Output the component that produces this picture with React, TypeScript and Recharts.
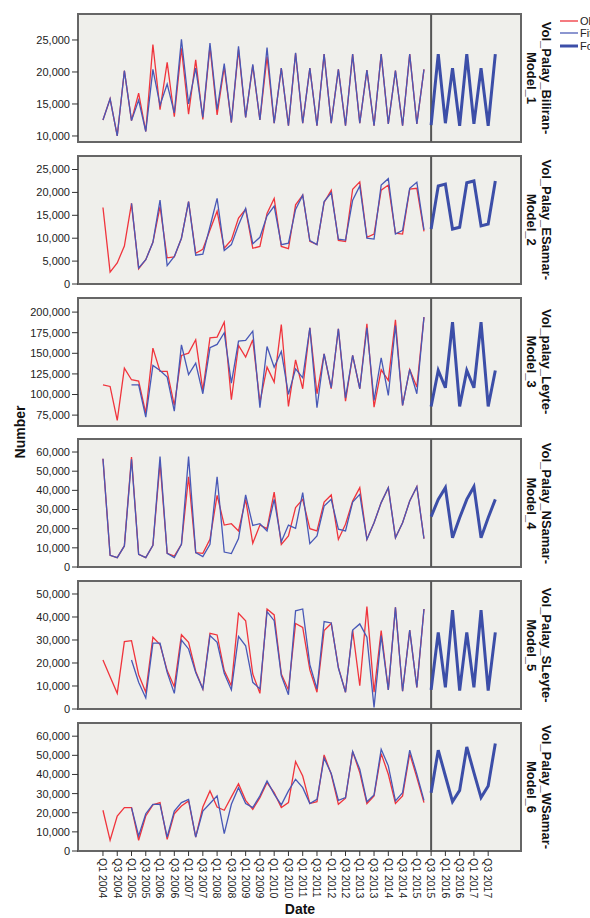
import React from 'react';
import { LineChart, Line, XAxis, YAxis, ReferenceLine } from 'recharts';

const FONT = '"Liberation Sans", Arial, sans-serif';

// every other quarter gets a label on the bottom axis
const tickLabels = [
  'Q1 2004', 'Q3 2004', 'Q1 2005', 'Q3 2005', 'Q1 2006', 'Q3 2006', 'Q1 2007',
  'Q3 2007', 'Q1 2008', 'Q3 2008', 'Q1 2009', 'Q3 2009', 'Q1 2010', 'Q3 2010',
  'Q1 2011', 'Q3 2011', 'Q1 2012', 'Q3 2012', 'Q1 2013', 'Q3 2013', 'Q1 2014',
  'Q3 2014', 'Q1 2015', 'Q3 2015', 'Q1 2016', 'Q3 2016', 'Q1 2017', 'Q3 2017',
];
const forecastStart = 46; // Q3 2015
const nQuarters = 56;

// Biliran
const bilObs = [12500, 15800, 10000, 20200, 12400, 16700, 10700, 24300, 14100, 21500, 13000, 23700, 13400, 21900, 12600, 24000, 13300, 20800, 12100, 23500, 12900, 21000, 12500, 22400, 12000, 20600, 11600, 22900, 12000, 20600, 11600, 22800, 12000, 20400, 11600, 22800, 12000, 20300, 11600, 22800, 11900, 20200, 11600, 22800, 11900, 20400];
const bilFit = [12500, 15800, 10000, 20200, 12400, 15600, 10700, 20400, 14800, 18100, 13600, 25100, 15000, 20600, 12900, 24500, 14100, 21300, 12100, 24000, 12900, 21200, 12500, 23800, 12000, 20600, 11600, 23000, 12000, 20600, 11600, 22800, 12000, 20400, 11600, 22800, 12000, 20300, 11600, 22800, 11900, 20200, 11600, 22800, 11900, 20400];
const bilFc = [11700, 22800, 12000, 20600, 11600, 22800, 11900, 20600, 11600, 22800];

// Eastern Samar
const esaObs = [16700, 2600, 4600, 8300, 17600, 3300, 5300, 9100, 16900, 5700, 5900, 10000, 18000, 6700, 7600, 11800, 15900, 7800, 9600, 14400, 16300, 7800, 8200, 15400, 18700, 8200, 7700, 17300, 19400, 9300, 8600, 17800, 20500, 9500, 9300, 20700, 22300, 10200, 10900, 20500, 21600, 11100, 10900, 20700, 20900, 11500];
const esaFit = [17600, 3500, 5300, 9100, 18300, 4000, 6000, 10000, 18000, 6300, 6500, 12500, 18700, 7300, 8600, 12900, 16500, 8800, 10200, 14900, 17000, 8600, 8900, 16300, 19400, 9500, 8600, 18000, 19900, 9800, 9600, 18300, 21400, 10000, 9800, 21600, 23000, 10900, 11700, 20900, 22200, 11800];
const esaFc = [12000, 21400, 21800, 12000, 12400, 22100, 22500, 12700, 13100, 22500];

// Leyte
const leyObs = [111800, 109800, 68500, 132000, 117900, 116300, 77400, 156300, 128000, 128000, 86700, 147400, 150200, 166400, 104900, 168800, 169700, 187900, 93600, 159500, 145400, 166400, 90800, 133200, 115000, 185000, 85500, 142100, 107000, 181000, 100900, 149400, 107000, 179800, 92000, 147400, 107000, 185800, 84700, 130000, 117100, 190700, 86700, 130400, 109000, 193900];
const leyFit = [111800, 111800, 72600, 135300, 129200, 121100, 79900, 160300, 124300, 138100, 100900, 156700, 160800, 174900, 113800, 164800, 165600, 176900, 83900, 158300, 133200, 152300, 100100, 131200, 120300, 181000, 83900, 149400, 108200, 179800, 96000, 147400, 107000, 181000, 92800, 144600, 98900, 183800, 86700, 130400, 100900, 193900];
const leyFc = [85500, 129200, 108200, 187900, 85500, 129200, 108200, 187900, 85500, 129200];

// Northern Samar
const nsaObs = [56500, 6100, 4900, 11000, 57400, 6600, 4900, 11300, 54400, 7100, 5700, 11800, 47100, 7500, 7100, 14400, 37400, 21900, 22600, 18800, 35300, 12400, 21900, 20000, 39100, 11800, 16200, 31000, 35300, 20000, 18800, 33900, 37600, 14400, 22300, 34400, 41400, 14400, 23100, 33600, 41400, 15300, 23100, 34400, 41900, 14800];
const nsaFit = [56500, 6100, 4900, 11000, 56200, 6600, 4900, 11300, 57600, 7100, 4900, 11800, 57600, 7500, 5400, 11800, 47100, 7800, 7000, 14800, 37600, 21700, 22600, 18800, 35300, 13200, 21900, 20200, 38800, 12200, 16200, 31800, 35300, 19700, 18800, 33900, 37900, 14400, 23100, 33600, 41400, 15300, 23100, 34400, 41900, 14800];
const nsaFc = [26300, 35300, 41400, 15300, 25700, 35300, 41900, 15300, 25700, 35300];

// Southern Leyte
const sleObs = [21300, 14000, 6800, 29300, 29700, 14900, 7300, 31200, 28000, 16700, 9700, 32300, 29000, 16400, 8700, 32900, 32200, 16700, 10100, 41600, 38400, 15200, 6800, 43500, 40900, 15200, 8300, 37200, 35500, 17000, 7300, 34100, 37200, 18100, 7300, 34300, 10100, 44500, 7300, 34100, 8300, 44200, 7700, 34300, 9400, 43500];
const sleFit = [21300, 11600, 4800, 28600, 28600, 15900, 6800, 30000, 26100, 15900, 8700, 31900, 29000, 15500, 8300, 31600, 27500, 11600, 8700, 42300, 38400, 14500, 6200, 42700, 43500, 19300, 8700, 38000, 37400, 17800, 7300, 34300, 37000, 31200, 700, 31900, 8300, 44200, 7700, 34300, 9400, 43500];
const sleFc = [8300, 33300, 9400, 43000, 8000, 33300, 9400, 43000, 8000, 33300];

// Western Samar
const wsaObs = [21300, 5600, 18300, 22700, 22700, 5600, 18300, 24100, 25300, 6100, 19500, 23500, 26200, 7300, 23000, 31400, 23000, 21300, 28300, 35200, 26500, 21800, 27900, 35800, 30500, 22700, 25300, 46700, 39200, 24800, 25800, 50200, 40100, 24400, 27600, 52000, 41000, 24800, 28800, 50900, 40100, 24800, 28800, 50900, 38400, 25300];
const wsaFit = [22700, 7900, 19500, 24400, 24400, 7300, 20900, 25300, 27000, 7300, 20900, 24800, 28800, 9100, 24400, 33100, 24800, 22700, 28800, 36600, 29700, 24100, 31400, 37500, 33100, 24800, 27000, 48500, 40500, 26500, 27900, 52000, 42700, 25800, 29300, 53200, 44500, 26200, 30500, 52700, 40100, 26500];
const wsaFc = [30500, 52700, 39200, 25800, 31700, 54400, 41000, 27900, 34000, 56200];

const panels = [
  { t1: 'Vol_Palay_Biliran-', t2: 'Model_1', obs: bilObs, fit: bilFit, fitStart: 0, fc: bilFc, domain: [9060, 29060], ticks: [10000, 15000, 20000, 25000] },
  { t1: 'Vol_Palay_ESamar-', t2: 'Model_2', obs: esaObs, fit: esaFit, fitStart: 4, fc: esaFc, domain: [0, 27950], ticks: [0, 5000, 10000, 15000, 20000, 25000] },
  { t1: 'Vol_palay_Leyte-', t2: 'Model_3', obs: leyObs, fit: leyFit, fitStart: 4, fc: leyFc, domain: [61800, 217100], ticks: [75000, 100000, 125000, 150000, 175000, 200000] },
  { t1: 'Vol_Palay_NSamar-', t2: 'Model_4', obs: nsaObs, fit: nsaFit, fitStart: 0, fc: nsaFc, domain: [0, 66800], ticks: [0, 10000, 20000, 30000, 40000, 50000, 60000] },
  { t1: 'Vol_Palay_SLeyte-', t2: 'Model_5', obs: sleObs, fit: sleFit, fitStart: 4, fc: sleFc, domain: [0, 55650], ticks: [0, 10000, 20000, 30000, 40000, 50000] },
  { t1: 'Vol_Palay_WSamar-', t2: 'Model_6', obs: wsaObs, fit: wsaFit, fitStart: 4, fc: wsaFc, domain: [0, 66900], ticks: [0, 10000, 20000, 30000, 40000, 50000, 60000] },
];

const buildRows = (p: any) => {
  const rows: any[] = [];
  for (let i = 0; i < nQuarters; i++) {
    const k = i - p.fitStart;
    rows.push({
      i,
      obs: i < p.obs.length ? p.obs[i] : null,
      fit: k >= 0 && k < p.fit.length ? p.fit[k] : null,
      fc: i >= forecastStart ? p.fc[i - forecastStart] : null,
    });
  }
  return rows;
};

const xDomain = [-3.5, 58.6];
const xTicks = tickLabels.map((_, n) => n * 2);

const PLOT_LEFT = 78;
const PLOT_W = 443;
const PLOT_H = 128;
const panelTop = (k: number) => 14 + k * 141.8;

const DateTick = (props: any) => {
  const { x, y, payload } = props;
  return (
    <g transform={`translate(${x},${y})`}>
      <text transform="rotate(90)" x={0} y={0} dy="0.35em" fontSize={10.5} fill="#222" fontFamily={FONT}>
        {tickLabels[payload.value / 2]}
      </text>
    </g>
  );
};

const fmt = (v: number) => v.toLocaleString('en-US');

export default function App() {
  return (
    <div style={{ position: 'relative', width: 590, height: 918, overflow: 'hidden', background: '#fff', fontFamily: FONT }}>
      <style>{'body{margin:0;}'}</style>
      {panels.map((p, k) => {
        const top = panelTop(k);
        const last = k === panels.length - 1;
        const padBottom = last ? 2 : 8;
        return (
          <React.Fragment key={p.t2}>
            <div
              style={{
                position: 'absolute', left: PLOT_LEFT - 1, top: top - 1, width: PLOT_W + 2, height: PLOT_H + 2,
                boxSizing: 'border-box', background: '#EFEFEB', border: '2px solid #666',
              }}
            />
            <div style={{ position: 'absolute', left: 0, top: top - 6 }}>
              <LineChart
                width={590}
                height={PLOT_H + 6 + padBottom + (last ? 48 : 0)}
                data={buildRows(p)}
                margin={{ top: 6, right: 69, bottom: padBottom, left: 8 }}
              >
                {last ? (
                  <XAxis
                    type="number"
                    dataKey="i"
                    domain={xDomain}
                    allowDataOverflow
                    ticks={xTicks}
                    interval={0}
                    tick={<DateTick />}
                    tickSize={5}
                    tickMargin={2}
                    tickLine={{ stroke: '#333' }}
                    axisLine={false}
                    height={48}
                  />
                ) : (
                  <XAxis type="number" dataKey="i" domain={xDomain} allowDataOverflow hide />
                )}
                <YAxis
                  type="number"
                  domain={p.domain}
                  allowDataOverflow
                  ticks={p.ticks}
                  interval={0}
                  width={70}
                  tickFormatter={fmt}
                  tickSize={6}
                  tickMargin={2}
                  axisLine={false}
                  tickLine={{ stroke: '#333' }}
                  tick={{ fontSize: 11, fill: '#222', fontFamily: FONT }}
                />
                <ReferenceLine x={forecastStart} stroke="#555" strokeWidth={2} />
                <Line type="linear" dataKey="obs" stroke="#F0343C" strokeWidth={1.3} dot={false} isAnimationActive={false} />
                <Line type="linear" dataKey="fit" stroke="#4858B6" strokeWidth={1.3} dot={false} isAnimationActive={false} />
                <Line type="linear" dataKey="fc" stroke="#3C4EA8" strokeWidth={3} dot={false} isAnimationActive={false} />
              </LineChart>
            </div>
          </React.Fragment>
        );
      })}

      <svg width={590} height={918} style={{ position: 'absolute', left: 0, top: 0, pointerEvents: 'none' }}>
        {panels.map((p, k) => {
          const cy = panelTop(k) + PLOT_H / 2;
          return (
            <g key={p.t2} fontFamily={FONT} fontWeight="bold" fontSize={13} fill="#111">
              <text transform={`translate(546,${cy}) rotate(90)`} textAnchor="middle" dominantBaseline="central">{p.t1}</text>
              <text transform={`translate(531,${cy}) rotate(90)`} textAnchor="middle" dominantBaseline="central">{p.t2}</text>
            </g>
          );
        })}
        <text transform="translate(20,432) rotate(-90)" textAnchor="middle" dominantBaseline="central" fontFamily={FONT} fontWeight="bold" fontSize={14} fill="#111">Number</text>
        <text x={300} y={909} textAnchor="middle" dominantBaseline="central" fontFamily={FONT} fontWeight="bold" fontSize={14} fill="#111">Date</text>
        <g fontFamily={FONT} fontSize={11} fill="#222">
          <line x1={560} x2={578} y1={21} y2={21} stroke="#F0343C" strokeWidth={1.3} />
          <text x={580} y={21} dominantBaseline="central">Observed</text>
          <line x1={560} x2={578} y1={33} y2={33} stroke="#6F7CC4" strokeWidth={1.6} />
          <text x={580} y={33} dominantBaseline="central">Fit</text>
          <line x1={560} x2={578} y1={46} y2={46} stroke="#3C4EA8" strokeWidth={3} />
          <text x={580} y={46} dominantBaseline="central">Forecast</text>
        </g>
      </svg>
    </div>
  );
}
